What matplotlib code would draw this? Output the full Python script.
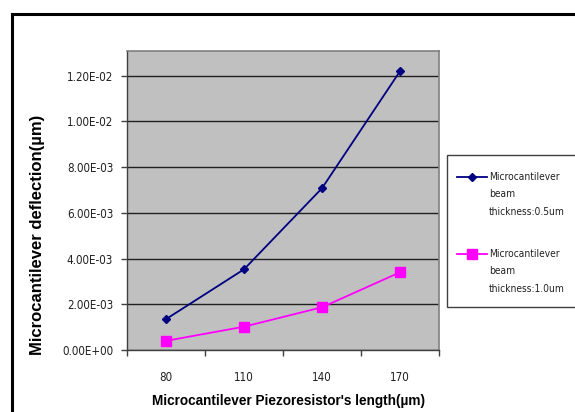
import matplotlib
matplotlib.use('Agg')
import matplotlib.pyplot as plt
from matplotlib import font_manager
from matplotlib.lines import Line2D
from matplotlib.patches import Rectangle
import numpy as np

# piezoresistor length categories (um) and tip deflection (um)
lengths = ['80', '110', '140', '170']
defl_05 = [1.35e-3, 3.53e-3, 7.08e-3, 1.22e-2]
defl_10 = [0.40e-3, 1.02e-3, 1.87e-3, 3.40e-3]
yticks = [0, 0.002, 0.004, 0.006, 0.008, 0.010, 0.012]
ytick_labels = ['0.00E+00', '2.00E-03', '4.00E-03', '6.00E-03', '8.00E-03', '1.00E-02', '1.20E-02']
legend_labels = ['Microcantilever\nbeam\nthickness:0.5um', 'Microcantilever\nbeam\nthickness:1.0um']

# pick a narrow face if one is installed, otherwise shrink the regular one
fonts = font_manager.fontManager.ttflist
names = {f.name for f in fonts}
if 'Liberation Sans Narrow' in names:
    narrow = dict(family=['Liberation Sans Narrow', 'DejaVu Sans'])
    scale = 1.0
elif any(f.name == 'DejaVu Sans' and f.stretch == 'condensed' for f in fonts):
    narrow = dict(family=['DejaVu Sans'], stretch='condensed')
    scale = 0.83
else:
    narrow = dict(family=['Liberation Sans', 'DejaVu Sans'])
    scale = 0.82
arial = ['Liberation Sans', 'DejaVu Sans']

W, H = 575, 412
fig = plt.figure(figsize=(W / 100, H / 100), dpi=100)
fig.patch.set_facecolor('white')

def fx(px):
    return px / W

def fy(py):
    return 1 - py / H

ax = fig.add_axes([fx(127), fy(350), fx(439) - fx(127), fy(51) - fy(350)])
ax.set_facecolor('#c0c0c0')

x = np.arange(len(lengths))
ax.plot(x, defl_05, color='#000080', lw=1.3, marker='D', ms=4.5, zorder=3)
ax.plot(x, defl_10, color='#ff00ff', lw=1.3, marker='s', ms=7, zorder=3)

ax.set_xlim(-0.5, 3.5)
ax.set_ylim(0, 0.013085)

ax.set_yticks(yticks)
ax.set_yticklabels(ytick_labels, fontsize=10 * scale, color='#202020', **narrow)
ax.yaxis.grid(True, color='#202020', lw=1)
ax.set_axisbelow(True)

# category boundaries carry the tick marks, labels sit in between
ax.set_xticks(np.arange(-0.5, 4, 1))
ax.set_xticklabels([])
ax.set_xticks(x, minor=True)
ax.set_xticklabels(lengths, minor=True, fontsize=10 * scale, color='#202020', **narrow)
ax.tick_params(axis='x', which='minor', length=0, pad=15)
ax.tick_params(axis='both', which='major', direction='out', length=4, width=1, color='#404040')
ax.tick_params(axis='y', pad=6)

for side in ['top', 'right']:
    ax.spines[side].set_color('#808080')
    ax.spines[side].set_linewidth(1.2)
for side in ['left', 'bottom']:
    ax.spines[side].set_color('#404040')
    ax.spines[side].set_linewidth(1)

fig.text(fx(38), fy(235), 'Microcantilever deflection(\u00b5m)', rotation=90,
         ha='center', va='center', fontsize=12, fontweight='bold', family=arial)
fig.text(fx(289), fy(401), "Microcantilever Piezoresistor's length(\u00b5m)",
         ha='center', va='center', fontsize=9.8, fontweight='bold', family=arial)

# outer chart frame
fig.add_artist(Line2D([fx(12), 1.01], [fy(14), fy(14)], color='black', lw=2.2))
fig.add_artist(Line2D([fx(12), fx(12)], [fy(14), -0.01], color='black', lw=2.2))

# legend box
fig.add_artist(Rectangle((fx(447), fy(307)), fx(200), fy(155) - fy(307),
                         transform=fig.transFigure, facecolor='white',
                         edgecolor='#404040', lw=1))

entries = [('#000080', 'D', 4.5, 177), ('#ff00ff', 's', 7, 254)]
for (col, mk, ms, ly), lab in zip(entries, legend_labels):
    fig.add_artist(Line2D([fx(457), fx(487)], [fy(ly), fy(ly)], color=col, lw=1.3))
    fig.add_artist(Line2D([fx(472)], [fy(ly)], color=col, marker=mk, ms=ms))
    for i, line in enumerate(lab.split('\n')):
        fig.text(fx(489), fy(ly + 17.5 * i), line, ha='left', va='center',
                 fontsize=8.8 * scale, color='#202020', **narrow)

fig.savefig('out.png', dpi=100)
